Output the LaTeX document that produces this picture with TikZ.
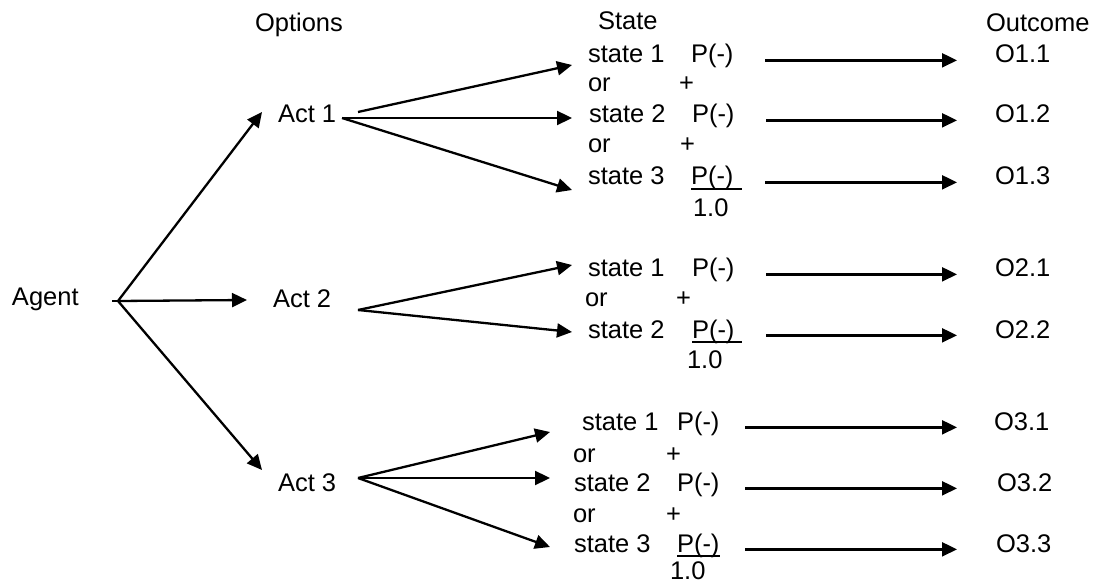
\documentclass[tikz,border=0pt]{standalone}
\usepackage{fontspec}
\setmainfont{Liberation Sans}
\usetikzlibrary{arrows.meta}
\begin{document}
\begin{tikzpicture}[x=1pt,y=-1pt,
  txt/.style={anchor=base west,inner sep=0pt,outer sep=0pt,font=\fontsize{25.5}{30}\selectfont},
  arr/.style={line width=2.3pt,-{Triangle[length=15pt,width=14pt]}},
  ln/.style={line width=2.3pt},
  uline/.style={line width=1.5pt}]
\useasboundingbox (0,0) rectangle (1098,585);
% headers
\node[txt] (hopt) at (255,32) {Options};
\node[txt] (hstate) at (598,30) {State};
\node[txt] (hout) at (986,32) {Outcome};
% agent and acts
\node[txt] (agent) at (12,306) {Agent};
\node[txt] (act1) at (278,123) {Act 1};
\node[txt] (act2) at (273,308) {Act 2};
\node[txt] (act3) at (278,491) {Act 3};
\coordinate (agentfork) at (118,301);
\coordinate (act1fork) at (342,118);
\coordinate (act2fork) at (358,310);
\coordinate (act3fork) at (358,478);
% block 1
\node[txt] (s11) at (588,63) {state 1};
\node[txt] (p11) at (691,63) {P(-)};
\node[txt] (or11) at (588,92) {or};
\node[txt] (pl11) at (679,92) {+};
\node[txt] (s12) at (589,123) {state 2};
\node[txt] (p12) at (692,123) {P(-)};
\node[txt] (or12) at (588,153) {or};
\node[txt] (pl12) at (680,153) {+};
\node[txt] (s13) at (588,185) {state 3};
\node[txt] (p13) at (691,185) {P(-)};
\node[txt] (sum1) at (693,217) {1.0};
% block 2
\node[txt] (s21) at (588,277) {state 1};
\node[txt] (p21) at (692,277) {P(-)};
\node[txt] (or21) at (585,307) {or};
\node[txt] (pl21) at (676,307) {+};
\node[txt] (s22) at (588,338) {state 2};
\node[txt] (p22) at (692,338) {P(-)};
\node[txt] (sum2) at (687,368) {1.0};
% block 3
\node[txt] (s31) at (582,430) {state 1};
\node[txt] (p31) at (677,430) {P(-)};
\node[txt] (or31) at (573,462) {or};
\node[txt] (pl31) at (666,462) {+};
\node[txt] (s32) at (574,491) {state 2};
\node[txt] (p32) at (677,491) {P(-)};
\node[txt] (or32) at (573,522) {or};
\node[txt] (pl32) at (666,522) {+};
\node[txt] (s33) at (574,552) {state 3};
\node[txt] (p33) at (677,552) {P(-)};
\node[txt] (sum3) at (670,579) {1.0};
% outcomes
\node[txt] (o11) at (995,63) {O1.1};
\node[txt] (o12) at (995,123) {O1.2};
\node[txt] (o13) at (995,185) {O1.3};
\node[txt] (o21) at (995,277) {O2.1};
\node[txt] (o22) at (995,338) {O2.2};
\node[txt] (o31) at (994,430) {O3.1};
\node[txt] (o32) at (997,491) {O3.2};
\node[txt] (o33) at (996,552) {O3.3};
% underlines
\draw[uline] ([yshift=-4pt]p13.base west) -- ++(51,0);
\draw[uline] ([yshift=-4pt]p22.base west) -- ++(50,0);
\draw[uline] ([yshift=-4pt]p33.base west) -- ++(43,0);
% agent to acts
\draw[ln] ([xshift=-6pt]agentfork) -- (agentfork);
\draw[arr] (agentfork) -- ([shift={(-16pt,11pt)}]act1.base west);
\draw[arr] (agentfork) -- ([shift={(-26pt,8pt)}]act2.base west);
\draw[arr] (agentfork) -- ([shift={(-16pt,21pt)}]act3.base west);
% act 1 fan
\draw[arr] ([shift={(16pt,6pt)}]act1fork) -- ([shift={(-16pt,-2pt)}]s11.base west);
\draw[arr] (act1fork) -- ([shift={(-17pt,5pt)}]s12.base west);
\draw[arr] (act1fork) -- ([shift={(-16pt,-5pt)}]s13.base west);
% act 2 fan
\draw[arr] (act2fork) -- ([shift={(-16pt,12pt)}]s21.base west);
\draw[arr] (act2fork) -- ([shift={(-16pt,6pt)}]s22.base west);
% act 3 fan
\draw[arr] (act3fork) -- ([shift={(-32pt,-2pt)}]s31.base west);
\draw[arr] (act3fork) -- ([shift={(-24pt,13pt)}]s32.base west);
\draw[arr] (act3fork) -- ([shift={(-24pt,5pt)}]s33.base west);
% to outcomes
\draw[arr] ([xshift=32pt]p11.mid east) -- ([xshift=-38pt]o11.mid west);
\draw[arr] ([xshift=32pt]p12.mid east) -- ([xshift=-38pt]o12.mid west);
\draw[arr] ([xshift=32pt]p13.mid east) -- ([xshift=-38pt]o13.mid west);
\draw[arr] ([xshift=32pt]p21.mid east) -- ([xshift=-38pt]o21.mid west);
\draw[arr] ([xshift=32pt]p22.mid east) -- ([xshift=-38pt]o22.mid west);
\draw[arr] ([xshift=26pt]p31.mid east) -- ([xshift=-37pt]o31.mid west);
\draw[arr] ([xshift=26pt]p32.mid east) -- ([xshift=-40pt]o32.mid west);
\draw[arr] ([xshift=26pt]p33.mid east) -- ([xshift=-39pt]o33.mid west);
\end{tikzpicture}
\end{document}
